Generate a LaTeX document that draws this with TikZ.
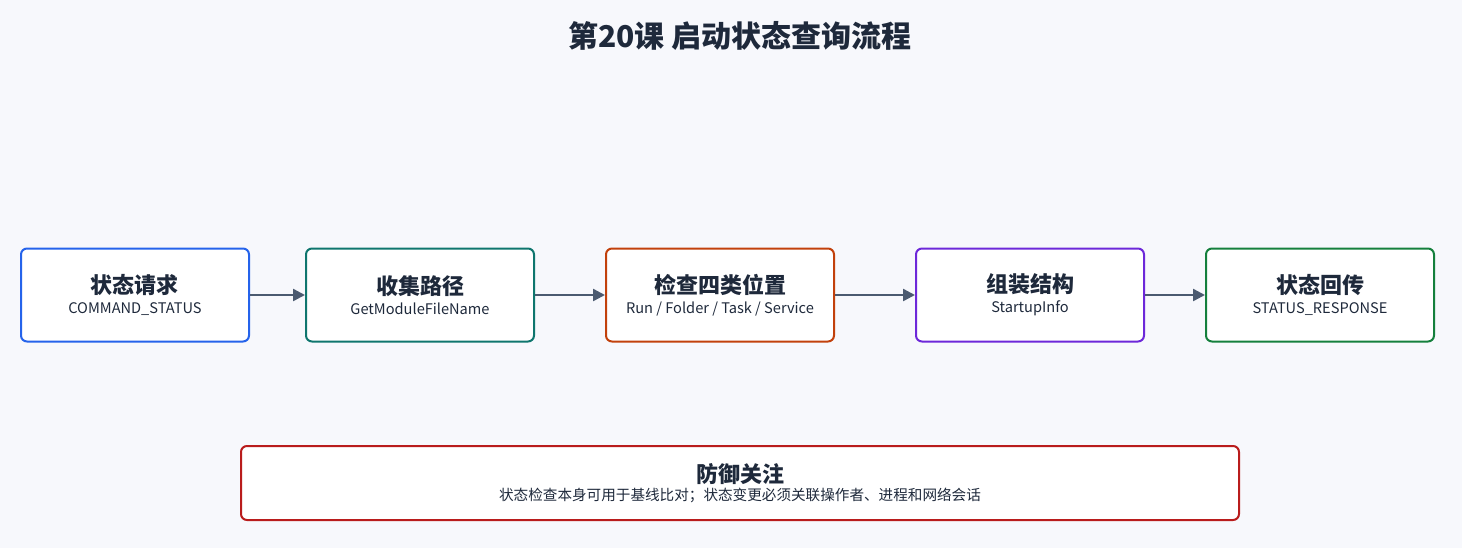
\documentclass[tikz,border=0pt]{standalone}
\usepackage{fontspec}
\setmainfont{Noto Sans CJK SC}
\usetikzlibrary{arrows.meta}
\definecolor{bg}{HTML}{F7F8FC}
\definecolor{ink}{HTML}{1E293B}
\definecolor{arr}{HTML}{4B5A70}
\definecolor{cA}{HTML}{2563EB}
\definecolor{cB}{HTML}{0F766E}
\definecolor{cC}{HTML}{C2410C}
\definecolor{cD}{HTML}{6D28D9}
\definecolor{cE}{HTML}{15803D}
\definecolor{cF}{HTML}{B91C1C}
\newcommand{\myttl}[1]{{\fontsize{11}{12}\selectfont\bfseries #1}}
\newcommand{\mysub}[1]{{\fontsize{7.3}{8.5}\selectfont #1}}
\begin{document}
\begin{tikzpicture}[x=0.5pt,y=-0.5pt,
  box/.style={draw=#1,line width=1pt,fill=white,rounded corners=3pt,minimum width=114pt,minimum height=46.5pt,align=center,text=ink},
  conn/.style={draw=arr,line width=1.2pt,-{Triangle[length=6pt,width=6pt]}}]
\fill[bg] (0,0) rectangle (1462,548);
\node[text=ink,font=\fontsize{15}{17}\selectfont\bfseries] (title) at (740,36) {第20课 启动状态查询流程};
\node[box=cA] (a) at (135,295) {\myttl{状态请求}\\[-2pt]\mysub{COMMAND\_STATUS}};
\node[box=cB] (b) at (420,295) {\myttl{收集路径}\\[-2pt]\mysub{GetModuleFileName}};
\node[box=cC] (c) at (720,295) {\myttl{检查四类位置}\\[-2pt]\mysub{Run / Folder / Task / Service}};
\node[box=cD] (d) at (1030,295) {\myttl{组装结构}\\[-2pt]\mysub{StartupInfo}};
\node[box=cE] (e) at (1320,295) {\myttl{状态回传}\\[-2pt]\mysub{STATUS\_RESPONSE}};
\node[box=cF,minimum width=499pt,minimum height=37pt] (f) at (740,483) {\myttl{防御关注}\\[-3pt]\mysub{状态检查本身可用于基线比对；状态变更必须关联操作者、进程和网络会话}};
\draw[conn] (a) -- (b);
\draw[conn] (b) -- (c);
\draw[conn] (c) -- (d);
\draw[conn] (d) -- (e);
\end{tikzpicture}
\end{document}
